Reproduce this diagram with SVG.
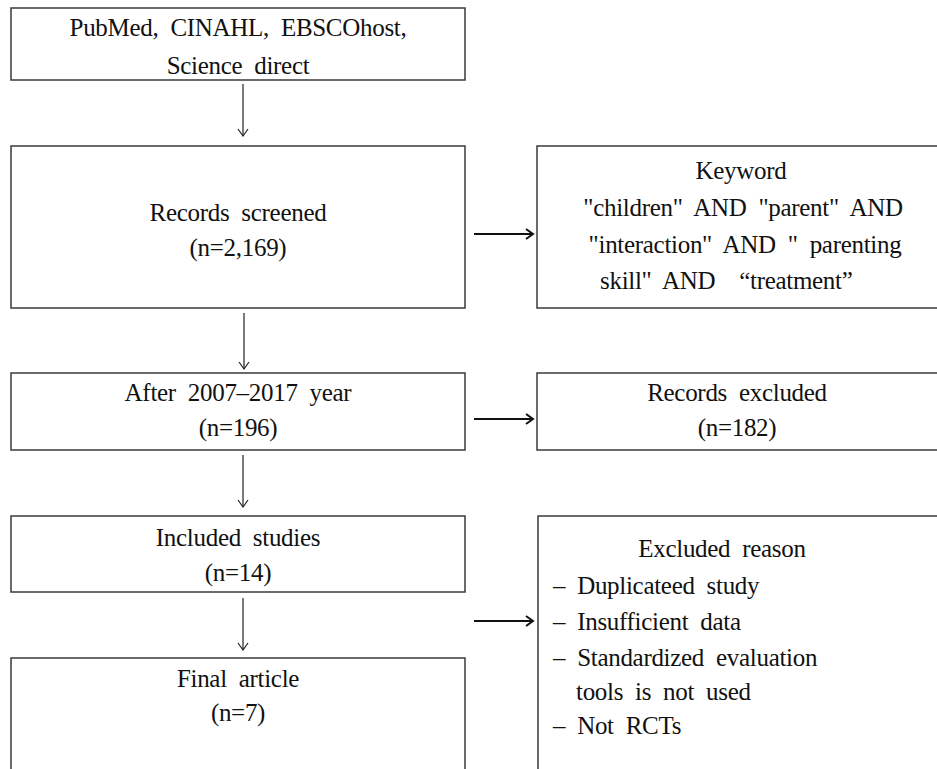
<svg xmlns="http://www.w3.org/2000/svg" width="937" height="769" viewBox="0 0 937 769">
<style>
  .box { fill: #ffffff; stroke: #3a3a3a; stroke-width: 1.5; }
  text { font-family: 'Liberation Serif', 'Times New Roman', serif; font-size: 25px; fill: #111; word-spacing: 6px; letter-spacing: -0.3px; }
  .c { text-anchor: middle; }
  .v { stroke: #222; stroke-width: 1.2; fill: none; }
  .h { stroke: #111; stroke-width: 2.2; fill: none; }
</style>
<defs>
  <marker id="av" markerWidth="12" markerHeight="12" refX="10" refY="6" orient="auto" markerUnits="userSpaceOnUse" viewBox="0 0 12 12">
    <path d="M3,1 L10,6 L3,11" fill="none" stroke="#222" stroke-width="1.2"/>
  </marker>
  <marker id="ah" markerWidth="12" markerHeight="12" refX="10" refY="6" orient="auto" markerUnits="userSpaceOnUse" viewBox="0 0 12 12">
    <path d="M3,1 L10,6 L3,11" fill="none" stroke="#111" stroke-width="2"/>
  </marker>
</defs>
<rect width="937" height="769" fill="#ffffff"/>

<g id="n1">
  <rect class="box" x="11" y="8" width="454" height="72"/>
  <text class="c" x="238" y="36">PubMed, CINAHL, EBSCOhost,</text>
  <text class="c" x="238" y="74">Science direct</text>
</g>
<g id="n2">
  <rect class="box" x="11" y="146" width="454" height="162"/>
  <text class="c" x="238" y="221">Records screened</text>
  <text class="c" x="238" y="256">(n=2,169)</text>
</g>
<g id="n3">
  <rect class="box" x="537" y="146" width="430" height="162"/>
  <text class="c" x="741" y="179">Keyword</text>
  <text class="c" x="743" y="216">"children" AND "parent" AND</text>
  <text class="c" x="745" y="253">"interaction" AND " parenting</text>
  <text x="600" y="289">skill" AND&#160; “treatment”</text>
</g>
<g id="n4">
  <rect class="box" x="11" y="373" width="454" height="77"/>
  <text class="c" x="238" y="401">After 2007–2017 year</text>
  <text class="c" x="238" y="436">(n=196)</text>
</g>
<g id="n5">
  <rect class="box" x="537" y="373" width="430" height="77"/>
  <text class="c" x="737" y="401">Records excluded</text>
  <text class="c" x="737" y="436">(n=182)</text>
</g>
<g id="n6">
  <rect class="box" x="11" y="516" width="454" height="76"/>
  <text class="c" x="238" y="546">Included studies</text>
  <text class="c" x="238" y="581">(n=14)</text>
</g>
<g id="n7">
  <rect class="box" x="538" y="516" width="430" height="300"/>
  <text class="c" x="722" y="557">Excluded reason</text>
  <text x="553" y="594">– Duplicateed study</text>
  <text x="553" y="630">– Insufficient data</text>
  <text x="553" y="666">– Standardized evaluation</text>
  <text x="576" y="700">tools is not used</text>
  <text x="553" y="734">– Not RCTs</text>
</g>
<g id="n8">
  <rect class="box" x="11" y="658" width="454" height="160"/>
  <text class="c" x="238" y="687">Final article</text>
  <text class="c" x="238" y="721">(n=7)</text>
</g>

<g id="connectors">
  <line class="v" x1="243" y1="84" x2="243" y2="136" marker-end="url(#av)"/>
  <line class="v" x1="244" y1="313" x2="244" y2="369" marker-end="url(#av)"/>
  <line class="v" x1="243" y1="455" x2="243" y2="507" marker-end="url(#av)"/>
  <line class="v" x1="243" y1="598" x2="243" y2="650" marker-end="url(#av)"/>
  <line class="h" x1="474" y1="234" x2="533" y2="234" marker-end="url(#ah)"/>
  <line class="h" x1="474" y1="419" x2="533" y2="419" marker-end="url(#ah)"/>
  <line class="h" x1="474" y1="621" x2="533" y2="621" marker-end="url(#ah)"/>
</g>
</svg>
